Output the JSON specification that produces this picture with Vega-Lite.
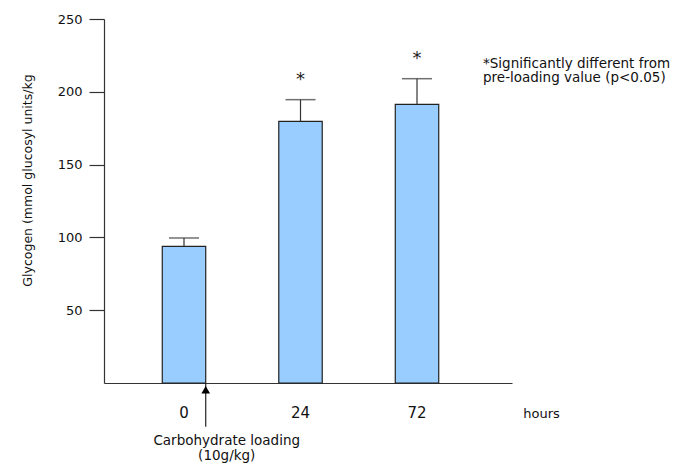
{
  "$schema": "https://vega.github.io/schema/vega-lite/v6.json",
  "autosize": "none",
  "width": 408,
  "height": 364,
  "padding": {"left": 104, "top": 19, "right": 161, "bottom": 82},
  "background": "white",
  "config": {
    "view": {"stroke": null},
    "font": "DejaVu Sans",
    "text": {"font": "DejaVu Sans"}
  },
  "datasets": {
    "bars": [
      {"hour": "0", "value": 93.8, "upper": 99.6, "sig": false},
      {"hour": "24", "value": 179.7, "upper": 194.6, "sig": true},
      {"hour": "72", "value": 191.4, "upper": 209.0, "sig": true}
    ],
    "arrow": [{"hour": "0", "start": 0, "end": -30, "head": -4.6}],
    "loadnote": [{"hour": "0", "y": -42.4, "label": "Carbohydrate loading\n(10g/kg)"}],
    "footnote": [{"hour": "72", "y": 216.6, "label": "*Significantly different from\npre-loading value (p<0.05)"}]
  },
  "encoding": {
    "x": {
      "field": "hour",
      "type": "nominal",
      "sort": ["0", "24", "72"],
      "scale": {"domain": ["0", "24", "72"], "paddingInner": 0.627, "paddingOuter": 0.5645, "align": 0.443},
      "axis": {
        "title": "hours",
        "titleX": 418.7,
        "titleY": 34,
        "titleAlign": "left",
        "titleBaseline": "alphabetic",
        "titleFontWeight": "normal",
        "titleFontSize": 13,
        "titleColor": "#111",
        "labelAngle": 0,
        "labelFontSize": 15,
        "labelColor": "#111",
        "labelBaseline": "alphabetic",
        "labelPadding": 34,
        "ticks": false,
        "tickSize": 0,
        "domainColor": "#333",
        "domainWidth": 1.2,
        "grid": false
      }
    }
  },
  "layer": [
    {
      "data": {"name": "bars"},
      "mark": {"type": "bar", "fill": "#99CCFF", "stroke": "#222", "strokeWidth": 1.2},
      "encoding": {
        "y": {
          "field": "value",
          "type": "quantitative",
          "scale": {"domain": [0, 250], "nice": false, "zero": true},
          "axis": {
            "values": [50, 100, 150, 200, 250],
            "title": "Glycogen (mmol glucosyl units/kg",
            "titleFontWeight": "normal",
            "titleFontSize": 12.5,
            "titleColor": "#111",
            "titleX": -77,
            "titleY": 161,
            "titleBaseline": "middle",
            "labelFontSize": 13,
            "labelColor": "#111",
            "labelPadding": 7,
            "tickSize": 15,
            "tickColor": "#333",
            "tickWidth": 1.2,
            "domainColor": "#333",
            "domainWidth": 1.2,
            "grid": false
          }
        }
      }
    },
    {
      "data": {"name": "bars"},
      "mark": {"type": "rule", "color": "#333", "strokeWidth": 1.2},
      "encoding": {
        "y": {"field": "value", "type": "quantitative"},
        "y2": {"field": "upper"}
      }
    },
    {
      "data": {"name": "bars"},
      "mark": {"type": "tick", "orient": "horizontal", "color": "#333", "size": 30, "thickness": 1.5},
      "encoding": {
        "y": {"field": "upper", "type": "quantitative"}
      }
    },
    {
      "data": {"name": "bars"},
      "transform": [{"filter": "datum.sig"}],
      "mark": {"type": "text", "text": "*", "fontSize": 18, "color": "#222", "baseline": "alphabetic", "dy": -15},
      "encoding": {
        "y": {"field": "upper", "type": "quantitative"}
      }
    },
    {
      "data": {"name": "arrow"},
      "mark": {"type": "rule", "color": "#222", "strokeWidth": 1.2, "clip": false},
      "encoding": {
        "x": {"field": "hour", "type": "nominal", "bandPosition": 1},
        "y": {"field": "start", "type": "quantitative"},
        "y2": {"field": "end"}
      }
    },
    {
      "data": {"name": "arrow"},
      "mark": {"type": "point", "shape": "triangle-up", "filled": true, "color": "#000", "size": 75, "opacity": 1},
      "encoding": {
        "x": {"field": "hour", "type": "nominal", "bandPosition": 1},
        "y": {"field": "head", "type": "quantitative"}
      }
    },
    {
      "data": {"name": "loadnote"},
      "mark": {"type": "text", "align": "center", "baseline": "alphabetic", "lineBreak": "\n", "lineHeight": 15, "fontSize": 13.5, "color": "#111", "dx": 21},
      "encoding": {
        "x": {"field": "hour", "type": "nominal", "bandPosition": 1},
        "y": {"field": "y", "type": "quantitative"},
        "text": {"field": "label"}
      }
    },
    {
      "data": {"name": "footnote"},
      "mark": {"type": "text", "align": "left", "baseline": "alphabetic", "lineBreak": "\n", "lineHeight": 14.5, "fontSize": 13.5, "color": "#111", "dx": 66},
      "encoding": {
        "y": {"field": "y", "type": "quantitative"},
        "text": {"field": "label"}
      }
    }
  ]
}
